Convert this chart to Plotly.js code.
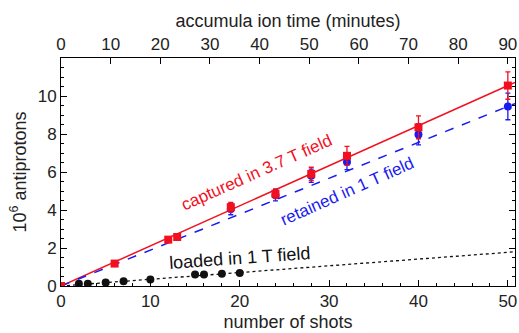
<!DOCTYPE html>
<html><head><meta charset="utf-8">
<script src="https://cdn.plot.ly/plotly-3.0.1.min.js"></script>
<style>body{margin:0;background:#fff}#c{width:519px;height:333px}</style>
</head><body><div id="c"></div>
<script>
// captured in 3.7 T field (red)
const capShots = [0, 6, 12, 13, 19, 24, 28, 32, 40, 50];
const capVals  = [0, 1.18, 2.44, 2.58, 4.15, 4.86, 5.9, 6.85, 8.35, 10.55];
const capErr   = [0, 0.12, 0.12, 0.12, 0.25, 0.25, 0.35, 0.5, 0.6, 0.72];
// retained in 1 T field (blue)
const retShots = [0, 19, 24, 28, 32, 40, 50];
const retVals  = [0, 4.05, 4.78, 5.8, 6.52, 7.98, 9.45];
const retErr   = [0, 0.3, 0.3, 0.35, 0.4, 0.55, 0.7];
// loaded in 1 T field (black)
const loadShots = [0, 2, 3, 5, 7, 10, 15, 16, 18, 20];
const loadVals  = [0, 0.12, 0.12, 0.18, 0.25, 0.34, 0.6, 0.6, 0.65, 0.68];
const loadErr   = [0, 0.06, 0.06, 0.06, 0.08, 0.08, 0.08, 0.08, 0.08, 0.08];
// fit lines
const fitX    = [0, 50.8];
const capFit  = [0, 10.72];
const retFit  = [0, 9.6];
const loadFit = [0, 1.8];
const minutesPerShot = 1.8;
const yTicks = [0, 2, 4, 6, 8, 10];
const xTicks = [0, 10, 20, 30, 40, 50];
const minuteTicks = [0, 10, 20, 30, 40, 50, 60, 70, 80, 90];

const red = '#f2101e', blue = '#1b1bf0', blk = '#111';
const font = 'Liberation Sans, Arial, sans-serif';

const traces = [
  {x: fitX, y: loadFit, mode: 'lines', line: {color: blk, width: 1.3, dash: 'dot'}, hoverinfo: 'skip'},
  {x: fitX, y: capFit, mode: 'lines', line: {color: red, width: 1.5}, hoverinfo: 'skip'},
  {x: fitX, y: retFit, mode: 'lines', line: {color: blue, width: 1.5, dash: 'dash'}, hoverinfo: 'skip'},
  {x: loadShots, y: loadVals, mode: 'markers', marker: {color: blk, size: 8},
   error_y: {type: 'data', array: loadErr, color: blk, thickness: 1.2, width: 2}},
  {x: retShots, y: retVals, mode: 'markers', marker: {color: blue, size: 8},
   error_y: {type: 'data', array: retErr, color: blue, thickness: 1.3, width: 2.5}},
  {x: capShots, y: capVals, mode: 'markers', marker: {color: red, size: 8, symbol: 'square'},
   error_y: {type: 'data', array: capErr, color: red, thickness: 1.3, width: 2.5}},
  {x: [0, 50.8*minutesPerShot], y: [null, null], xaxis: 'x2', mode: 'markers', showlegend: false, hoverinfo: 'skip'}
];

const axCommon = {
  showgrid: false, zeroline: false, showline: true, linecolor: '#000', linewidth: 1,
  ticks: 'inside', ticklen: 6, tickcolor: '#000', tickfont: {family: font, size: 17, color: '#222'}
};
const titleFont = {family: font, size: 18, color: '#222'};

const layout = {
  width: 519, height: 333,
  margin: {l: 61, r: 4, t: 58, b: 47},
  paper_bgcolor: '#fff', plot_bgcolor: '#fff',
  showlegend: false,
  font: {family: font, color: '#222'},
  xaxis: Object.assign({}, axCommon, {
    range: [0, 50.8], tickmode: 'array', tickvals: xTicks, mirror: false,
    minor: {ticks: 'inside', ticklen: 3, dtick: 2, tick0: 0, tickcolor: '#000'},
    title: {text: 'number of shots', font: titleFont, standoff: 4}
  }),
  xaxis2: Object.assign({}, axCommon, {
    overlaying: 'x', side: 'top', range: [0, 50.8*minutesPerShot], tickmode: 'array', tickvals: minuteTicks,
    title: {text: 'accumula ion time (minutes)', font: titleFont, standoff: 2}
  }),
  yaxis: Object.assign({}, axCommon, {
    range: [0, 12], tickmode: 'array', tickvals: yTicks, mirror: 'ticks',
    minor: {ticks: 'inside', ticklen: 3, dtick: 0.5, tick0: 0, tickcolor: '#000'},
    title: {text: '10<sup>6</sup> antiprotons', font: titleFont, standoff: 6}
  }),
  annotations: [
    {x: 21.9, y: 6.0, xref: 'x', yref: 'y', text: 'captured in 3.7 T field', showarrow: false,
     textangle: -24, font: {family: font, size: 17, color: red}},
    {x: 32.0, y: 5.0, xref: 'x', yref: 'y', text: 'retained in 1 T field', showarrow: false,
     textangle: -24, font: {family: font, size: 17, color: blue}},
    {x: 20.0, y: 1.5, xref: 'x', yref: 'y', text: 'loaded in 1 T field', showarrow: false,
     textangle: -4, font: {family: font, size: 18, color: blk}}
  ]
};

Plotly.newPlot('c', traces, layout, {staticPlot: true, displayModeBar: false});
</script></body></html>
